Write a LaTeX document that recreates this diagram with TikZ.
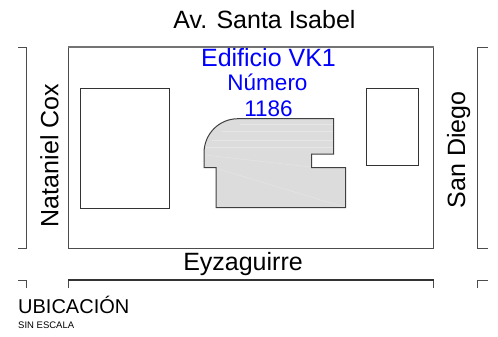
\documentclass[tikz,border=0pt]{standalone}
\usepackage{fontspec}
\setmainfont{Liberation Sans}
\definecolor{bldg}{HTML}{DCDCDC}
\definecolor{vkblue}{HTML}{0000FF}
\tikzset{
  x=1bp,y=-1bp,
  block/.style={draw=black!80,line width=0.8bp},
  street/.style={draw=black!70,line width=1bp},
  heavy/.style={draw=black!55,line width=1.4bp},
  kerb/.style={draw=black!80,line width=1.2bp},
  building/.style={draw=black!75,fill=bldg,line width=1bp},
  streak/.style={draw=white,line width=0.4bp,opacity=0.3},
  lbl/.style={inner sep=0pt,text=black,anchor=base},
  bluelbl/.style={inner sep=0pt,text=vkblue,anchor=base},
}
\newcommand{\fs}[1]{\fontsize{#1bp}{#1bp}\selectfont}
\begin{document}
\begin{tikzpicture}
\useasboundingbox (0,0) rectangle (498,336);
\fill[white] (0,0) rectangle (498,336);
% block
\draw[street] (68.5,47) -- (68.5,248) -- (433.5,248) -- (433.5,47);
\draw[heavy] (68,47) -- (434,47);
% left street
\draw[street] (18,47) -- (26,47) -- (26,248) -- (18,248);
% right street
\draw[street] (488,47) -- (477.5,47) -- (477.5,248) -- (488,248);
% lower kerb
\draw[street] (68.5,288) -- (68.5,280);
\draw[street] (433.5,288) -- (433.5,280);
\draw[kerb] (68,280) -- (434,280);
\draw[street] (18,280) -- (26,280) -- (26,288);
\draw[street] (488,280) -- (477.5,280) -- (477.5,288);
% neighbours
\draw[block] (80.5,88.5) rectangle (169.5,208);
\draw[block] (366.5,88.5) rectangle (418.5,165.5);
% building
\draw[building] (238,118.7) -- (333.7,118.7) -- (333.7,154) -- (311.7,154) -- (311.7,167.5)
  -- (345.7,167.5) -- (345.7,207.7) -- (216,207.7) -- (216,167.5) -- (204,167.5) -- (204,153)
  .. controls (204,134) and (219,118.7) .. (238,118.7) -- cycle;
\draw[streak] (217,168.5) -- (344,207);
\draw[streak] (205,155) -- (311,167);
\draw[streak] (240,124) -- (333,124);
\draw[streak] (222,131) -- (333,131);
\draw[streak] (212,140) -- (333,140);
\draw[streak] (206,147) -- (333,147);
% labels
\node[lbl] (santa) at (264.5,28) {\fs{25}Av. Santa Isabel};
\node[lbl] (eyza) at (243,270) {\fs{25}Eyzaguirre};
\node[lbl,rotate=90] (cox) at (58.3,155.5) {\fs{25}Nataniel Cox};
\node[lbl,rotate=90] (diego) at (465,150) {\fs{25}San Diego};
\node[bluelbl] (vk) at (268.5,66.7) {\fs{25}Edificio VK1};
\node[bluelbl] (num) at (267.5,90) {\fs{22.5}Número};
\node[bluelbl] (nro) at (268.5,116.7) {\fs{22.5}1186};
\node[lbl,anchor=base west] (ubi) at (18,313.3) {\fs{20}UBICACIÓN};
\node[lbl,anchor=base west] (esc) at (18,328.7) {\fs{9.5}SIN ESCALA};
\end{tikzpicture}
\end{document}
